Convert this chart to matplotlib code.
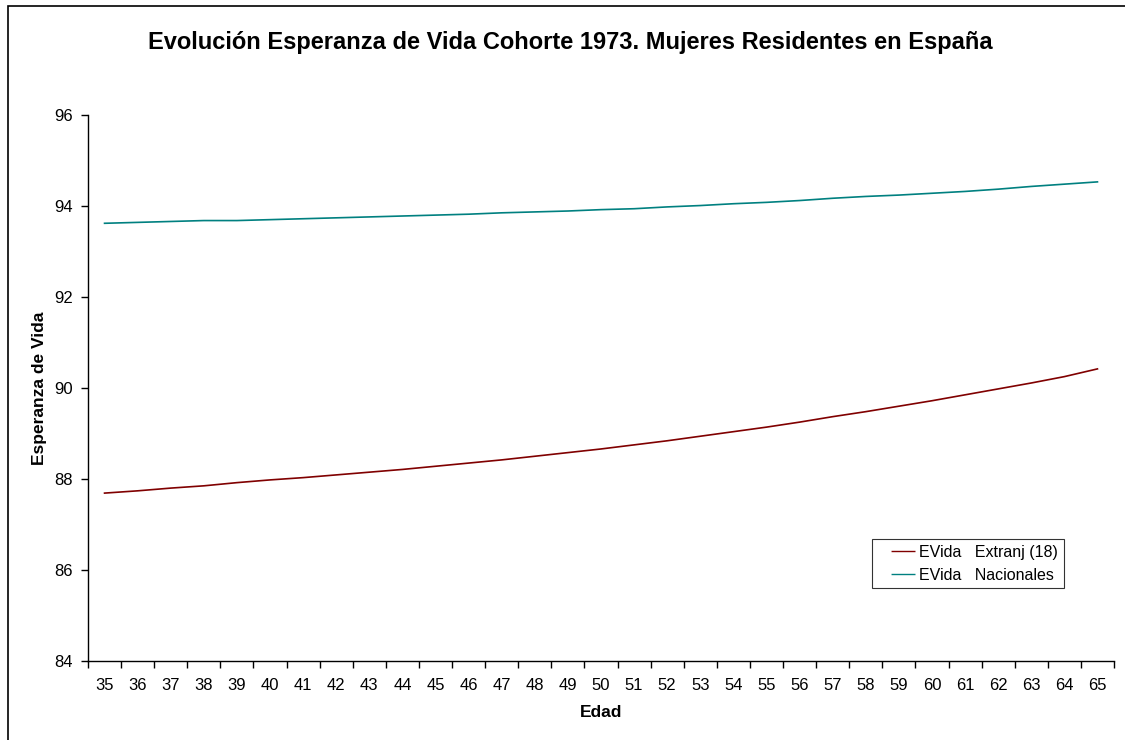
import numpy as np
import matplotlib.pyplot as plt
from matplotlib.lines import Line2D
from matplotlib.patches import Rectangle

plt.rcParams['font.family'] = ['Liberation Sans', 'DejaVu Sans']

# Edades de la cohorte 1973
edad = list(range(35, 66))

# Esperanza de vida por edad
evida_extranj = [87.69, 87.74, 87.80, 87.85, 87.92, 87.98, 88.03, 88.09, 88.15, 88.21,
                 88.28, 88.35, 88.42, 88.50, 88.58, 88.66, 88.75, 88.84, 88.94, 89.04,
                 89.14, 89.25, 89.37, 89.48, 89.60, 89.72, 89.85, 89.98, 90.11, 90.25,
                 90.42]
evida_nacional = [93.62, 93.64, 93.66, 93.68, 93.68, 93.70, 93.72, 93.74, 93.76, 93.78,
                  93.80, 93.82, 93.85, 93.87, 93.89, 93.92, 93.94, 93.98, 94.01, 94.05,
                  94.08, 94.12, 94.17, 94.21, 94.24, 94.28, 94.32, 94.37, 94.43, 94.48,
                  94.53]

series = [('EVida   Extranj (18)', evida_extranj, '#800000'),
          ('EVida   Nacionales', evida_nacional, '#008080')]

fig = plt.figure(figsize=(11.25, 7.4), dpi=100)
ax = fig.add_axes([88/1125, 79/740, 1026/1125, 546/740])

for nombre, valores, color in series:
    ax.plot(edad, valores, color=color, lw=1.2)

ax.set_xlim(34.5, 65.5)
ax.set_ylim(84, 96)
ax.set_yticks(np.arange(84, 97, 2))
ax.set_xticks(edad)
ax.set_xticks(np.arange(34.5, 66, 1), minor=True)
ax.tick_params(axis='x', which='major', length=0, pad=12, labelsize=12)
ax.tick_params(axis='x', which='minor', length=5, width=1, direction='out')
ax.tick_params(axis='y', length=5, width=1, direction='out', pad=6, labelsize=12)

for s in ['top', 'right']:
    ax.spines[s].set_visible(False)
for s in ['left', 'bottom']:
    ax.spines[s].set_linewidth(1.0)

ax.set_xlabel('Edad', fontsize=12.5, fontweight='bold', labelpad=9)
ax.set_ylabel('Esperanza de Vida', fontsize=12.5, fontweight='bold', labelpad=5)

fig.text(0.507, 1 - 42/740, 'Evolución Esperanza de Vida Cohorte 1973. Mujeres Residentes en España',
         ha='center', va='center', fontsize=17, fontweight='bold')

# la línea de la leyenda empieza separada del borde: trazo con hueco inicial
handles = [Line2D([], [], color=c, lw=1, linestyle=(17.3, (17.3, 9.4)))
           for _, _, c in series]
leg = ax.legend(handles, [n for n, _, _ in series],
                loc='upper left', bbox_to_anchor=((872 - 88)/1026, (661 - 539)/546),
                fontsize=11.5, frameon=True, fancybox=False, handlelength=26.7/11.5,
                handletextpad=0.3, borderpad=0.35, borderaxespad=0, labelspacing=0.5)
leg.get_frame().set_edgecolor('black')
leg.get_frame().set_linewidth(0.8)

# marco exterior del gráfico
fig.patches.append(Rectangle((8/1125, -0.5), 2, 1.5 - 6/740, transform=fig.transFigure,
                             fill=False, edgecolor='black', lw=1.2))

fig.savefig('out.png', dpi=100)
